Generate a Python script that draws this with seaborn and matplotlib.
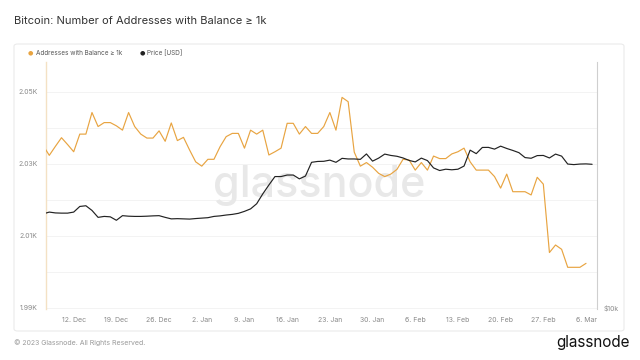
import matplotlib
matplotlib.use("Agg")
import matplotlib.pyplot as plt
import matplotlib.ticker as mticker
from matplotlib.patches import FancyBboxPatch
import seaborn as sns
import pandas as pd

# ---------------- data ----------------
addr_dates = pd.date_range("2022-12-07", "2023-03-06", freq="D")
addresses = [
    2035.1, 2032.4, 2034.9, 2037.3, 2035.4, 2033.4, 2038.3, 2038.3, 2044.3, 2040.4,
    2041.5, 2041.5, 2040.6, 2039.4, 2044.3, 2040.4, 2038.3, 2037.2, 2037.2, 2039.2,
    2036.3, 2041.4, 2036.5, 2037.4, 2033.9, 2030.6, 2029.4, 2031.3, 2031.3, 2034.8,
    2037.6, 2038.5, 2038.5, 2034.4, 2039.4, 2038.3, 2039.4, 2032.5, 2033.4, 2034.4,
    2041.3, 2041.3, 2038.3, 2040.4, 2038.5, 2038.5, 2040.4, 2044.3, 2039.4, 2048.5,
    2047.3, 2033.3, 2029.4, 2030.4, 2029.1, 2027.4, 2026.5, 2027.2, 2028.5, 2031.3,
    2031.1, 2028.3, 2030.4, 2028.3, 2032.2, 2031.5, 2031.5, 2032.8, 2033.4, 2034.4,
    2030.6, 2028.3, 2028.3, 2028.3, 2026.5, 2023.3, 2027.2, 2022.3, 2022.3, 2022.3,
    2021.4, 2026.3, 2024.4, 2005.4, 2007.5, 2006.3, 2001.3, 2001.3, 2001.3, 2002.4,
]
price_dates = pd.date_range("2022-12-07", "2023-03-07", freq="D")
price = [
    16960, 17130, 17050, 17030, 17030, 17130, 17680, 17750, 17290, 16630,
    16720, 16680, 16360, 16790, 16740, 16720, 16720, 16740, 16770, 16790,
    16630, 16490, 16510, 16490, 16470, 16520, 16560, 16600, 16720, 16770,
    16850, 16910, 17010, 17200, 17440, 17950, 18970, 19940, 20910, 20910,
    21090, 21090, 20640, 20970, 22650, 22760, 22780, 22930, 22650, 23160,
    23080, 23080, 23030, 23740, 22800, 23190, 23720, 23540, 23430, 23210,
    22890, 22700, 23190, 22870, 21950, 21630, 21790, 21720, 21790, 22180,
    24250, 23780, 24620, 24630, 24390, 24800, 24480, 24210, 23910, 23260,
    23170, 23520, 23540, 23210, 23720, 23450, 22430, 22360, 22430, 22450,
    22400,
]
x_tick_dates = pd.to_datetime([
    "2022-12-12", "2022-12-19", "2022-12-26", "2023-01-02", "2023-01-09",
    "2023-01-16", "2023-01-23", "2023-01-30", "2023-02-06", "2023-02-13",
    "2023-02-20", "2023-02-27", "2023-03-06"])
x_tick_labels = ["12. Dec", "19. Dec", "26. Dec", "2. Jan", "9. Jan", "16. Jan",
                 "23. Jan", "30. Jan", "6. Feb", "13. Feb", "20. Feb", "27. Feb", "6. Mar"]
y_tick_values = [1990, 2010, 2030, 2050]
y_tick_labels = ["1.99K", "2.01K", "2.03K", "2.05K"]
grid_values = [1990, 2000, 2010, 2020, 2030, 2040, 2050]
r_tick_values = [10000]
r_tick_labels = ["$10k"]

df_a = pd.DataFrame({"date": addr_dates, "value": addresses})
df_p = pd.DataFrame({"date": price_dates, "price": price})

ORANGE = "#e8a441"
BLACK = "#222222"

# ---------------- figure ----------------
sns.set_theme(style="white")
plt.rcParams['font.family'] = ['Inter', 'DejaVu Sans']

W, H = 640, 360
fig = plt.figure(figsize=(6.4, 3.6), dpi=100)
fig.patch.set_facecolor("white")

panel = FancyBboxPatch((14 / W, 1 - 331 / H), 610 / W, 287 / H,
                       boxstyle="round,pad=0,rounding_size=0.006",
                       transform=fig.transFigure, facecolor="white",
                       edgecolor="#ebebeb", lw=0.8, zorder=-5)
fig.patches.append(panel)

ax = fig.add_axes([46 / W, 1 - 309 / H, 551 / W, 247 / H])
ax.patch.set_alpha(0)

for g in grid_values:
    ax.axhline(g, color="#f3f3f3", lw=0.7, zorder=0)

ax.text(0.495, 0.50, "glassnode", transform=ax.transAxes, fontsize=31,
        color="#e8e8e8", ha="center", va="center", fontweight="medium", zorder=0)

sns.lineplot(data=df_a, x="date", y="value", ax=ax, color=ORANGE, lw=0.85, zorder=3)

ax2 = ax.twinx()
sns.lineplot(data=df_p, x="date", y="price", ax=ax2, color=BLACK, lw=0.85, zorder=3)

x0 = pd.Timestamp("2022-12-08") - pd.Timedelta(days=0.54)
x1 = pd.Timestamp("2022-12-08") + pd.Timedelta(days=89.8)
ax.set_xlim(x0, x1)
ax.set_ylim(1989.72, 2058.33)
ax2.set_yscale("log")
ax2.set_ylim(9944, 39770)

ax.set_xticks(x_tick_dates)
ax.set_xticklabels(x_tick_labels)
ax.set_yticks(y_tick_values)
ax.set_yticklabels(y_tick_labels)
ax2.yaxis.set_major_locator(mticker.FixedLocator(r_tick_values))
ax2.yaxis.set_minor_locator(mticker.NullLocator())
ax2.set_yticklabels(r_tick_labels)

for a in (ax, ax2):
    a.set_xlabel("")
    a.set_ylabel("")
    a.grid(False)
ax.tick_params(axis="x", length=0, labelsize=5, labelcolor="#8a8a8a", pad=6)
ax.tick_params(axis="y", length=0, labelsize=5, labelcolor="#8a8a8a", pad=6)
ax2.tick_params(axis="y", length=0, labelsize=5, labelcolor="#8a8a8a", pad=5)

for s in ("top", "bottom", "right"):
    ax.spines[s].set_visible(False)
ax.spines["left"].set_color("#f4e1c4")
ax.spines["left"].set_linewidth(1.0)
for s in ("top", "bottom", "left"):
    ax2.spines[s].set_visible(False)
ax2.spines["right"].set_color("#cfcfcf")
ax2.spines["right"].set_linewidth(0.8)

# ---------------- texts ----------------
fig.text(14 / W, 1 - 21 / H, "Bitcoin: Number of Addresses with Balance ≥ 1k",
         fontsize=8, color="#333333", va="center", ha="left")

fig.text(30 / W, 1 - 53 / H, "●", fontsize=4.5, color=ORANGE, va="center", ha="center",
         family=["DejaVu Sans"])
fig.text(36 / W, 1 - 53 / H, "Addresses with Balance ≥ 1k", fontsize=4.6,
         color="#555555", va="center", ha="left")
fig.text(142 / W, 1 - 53 / H, "●", fontsize=4.5, color=BLACK, va="center", ha="center",
         family=["DejaVu Sans"])
fig.text(147 / W, 1 - 53 / H, "Price [USD]", fontsize=4.6,
         color="#555555", va="center", ha="left")

fig.text(14 / W, 1 - 343 / H, "© 2023 Glassnode. All Rights Reserved.", fontsize=5,
         color="#9a9a9a", va="center", ha="left")
fig.text(630 / W, 1 - 343 / H, "glassnode", fontsize=11, color="#111111",
         va="center", ha="right")

fig.savefig("out.png", dpi=100, facecolor="white")
